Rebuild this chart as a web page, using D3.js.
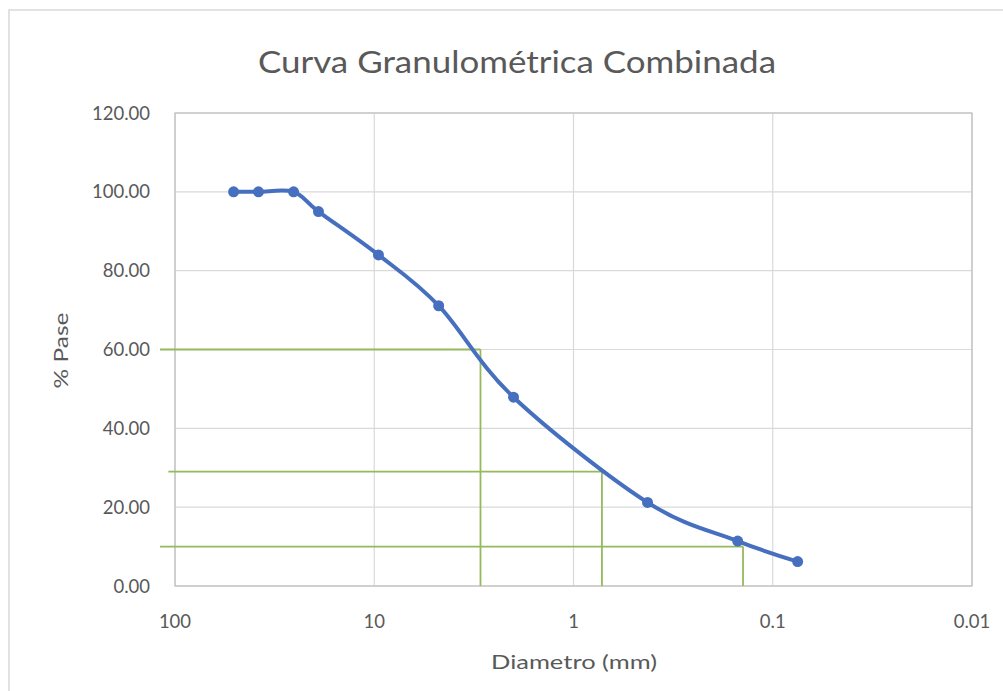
<!DOCTYPE html>
<html>
<head>
<meta charset="utf-8">
<script src="https://cdn.jsdelivr.net/npm/d3@7"></script>
<style>
  html, body { margin: 0; padding: 0; background: #fff; }
  svg { display: block; }
  text { font-family: "Lato", "Open Sans", sans-serif; fill: #595959; }
</style>
</head>
<body>
<svg id="chart" width="1003" height="691"></svg>
<script>
// ---- data ----
const diameters = [50.8, 38.1, 25.4, 19.05, 9.525, 4.75, 2.0, 0.425, 0.15, 0.075];
const percentPassing = [100, 100, 100, 95.0, 84.0, 71.1, 47.9, 21.2, 11.4, 6.2];
const xTicks = [100, 10, 1, 0.1, 0.01];
const xTickLabels = ["100", "10", "1", "0.1", "0.01"];
const yTicks = [0, 20, 40, 60, 80, 100, 120];
// reference lines (D60, D30, D10): percent and diameter
const refPercent = [60, 29, 10];
const refDiameter = [2.93, 0.72, 0.141];
const refStart = [119, 108, 119];
const titleText = "Curva Granulométrica Combinada";
const xTitle = "Diametro (mm)";
const yTitle = "% Pase";

// ---- layout ----
const svg = d3.select("#chart");
const pLeft = 175, pRight = 972, pTop = 113, pBottom = 586;

svg.append("rect").attr("x", 9).attr("y", 10).attr("width", 1010).attr("height", 700)
  .attr("fill", "#fff").attr("stroke", "#d9d9d9").attr("stroke-width", 1.5);

const x = d3.scaleLog().domain([100, 0.01]).range([pLeft, pRight]);
const y = d3.scaleLinear().domain([0, 120]).range([pBottom, pTop]);

// gridlines
svg.append("g").selectAll("line").data(yTicks).join("line")
  .attr("x1", pLeft).attr("x2", pRight)
  .attr("y1", d => y(d)).attr("y2", d => y(d))
  .attr("stroke", "#d9d9d9").attr("stroke-width", 1.2);
svg.append("g").selectAll("line").data(xTicks).join("line")
  .attr("x1", d => x(d)).attr("x2", d => x(d))
  .attr("y1", pTop).attr("y2", pBottom)
  .attr("stroke", "#d9d9d9").attr("stroke-width", 1.2);
// plot border
svg.append("rect").attr("x", pLeft).attr("y", pTop).attr("width", pRight - pLeft).attr("height", pBottom - pTop)
  .attr("fill", "none").attr("stroke", "#bfbfbf").attr("stroke-width", 1.2);

// y axis labels
svg.append("g").selectAll("text").data(yTicks).join("text")
  .attr("x", 150).attr("y", d => y(d) + 6.5)
  .attr("text-anchor", "end").attr("font-size", 18.5)
  .text(d => d3.format(".2f")(d));

// x axis labels
svg.append("g").selectAll("text").data(xTicks).join("text")
  .attr("x", d => x(d)).attr("y", 628)
  .attr("text-anchor", "middle").attr("font-size", 18.5)
  .text((d, i) => xTickLabels[i]);

// reference lines (green)
const refG = svg.append("g");
refPercent.forEach((p, i) => {
  refG.append("line")
    .attr("x1", x(refStart[i])).attr("x2", x(refDiameter[i]))
    .attr("y1", y(p)).attr("y2", y(p))
    .attr("stroke", "#95ba5e").attr("stroke-width", 1.8);
  refG.append("line")
    .attr("x1", x(refDiameter[i])).attr("x2", x(refDiameter[i]))
    .attr("y1", y(p)).attr("y2", y(0))
    .attr("stroke", "#95ba5e").attr("stroke-width", 1.8);
});

// series
const pts = diameters.map((d, i) => [d, percentPassing[i]]);
const line = d3.line().x(d => x(d[0])).y(d => y(d[1])).curve(d3.curveCardinal.tension(0));
svg.append("path").datum(pts).attr("d", line)
  .attr("fill", "none").attr("stroke", "#4670bf").attr("stroke-width", 4)
  .attr("stroke-linejoin", "round").attr("stroke-linecap", "round");
svg.append("g").selectAll("circle").data(pts).join("circle")
  .attr("cx", d => x(d[0])).attr("cy", d => y(d[1])).attr("r", 5.5)
  .attr("fill", "#4670bf");

// titles
svg.append("text").attr("x", 517).attr("y", 73).attr("text-anchor", "middle")
  .attr("font-size", 30).attr("textLength", 518).attr("lengthAdjust", "spacingAndGlyphs")
  .text(titleText);
svg.append("text").attr("x", 574).attr("y", 669).attr("text-anchor", "middle")
  .attr("font-size", 19).attr("textLength", 166).attr("lengthAdjust", "spacingAndGlyphs")
  .text(xTitle);
svg.append("text").attr("transform", `translate(68,${(pTop + pBottom) / 2 + 1}) rotate(-90)`)
  .attr("text-anchor", "middle").attr("font-size", 19)
  .attr("textLength", 76).attr("lengthAdjust", "spacingAndGlyphs").text(yTitle);
</script>
</body>
</html>
